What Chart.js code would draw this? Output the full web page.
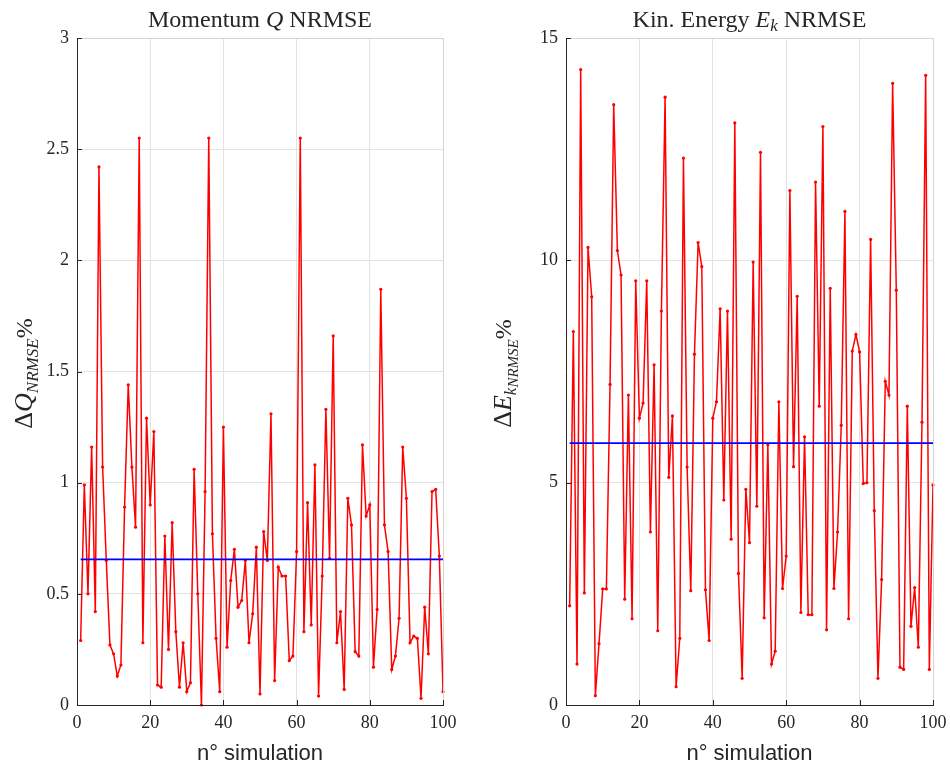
<!DOCTYPE html>
<html>
<head>
<meta charset="utf-8">
<script src="https://cdn.jsdelivr.net/npm/chart.js@4.4.1/dist/chart.umd.min.js"></script>
<style>
body { margin: 0; background: #fff; }
#wrap { position: relative; width: 950px; height: 769px; }
.pane { position: absolute; top: 0; width: 475px; height: 769px; }
</style>
</head>
<body>
<div id="wrap">
    <div class="pane" style="left:0"><canvas id="chartQ" width="475" height="769"></canvas></div>
    <div class="pane" style="left:475px"><canvas id="chartE" width="475" height="769"></canvas></div>
</div>
<script>
// simulation index 1..100
var simIndex = Array.from({ length: 100 }, function (_, i) { return i + 1; });

var momentumErr = [
    0.29, 0.99, 0.50, 1.16, 0.42, 2.42, 1.07, 0.65, 0.27, 0.23,
    0.13, 0.18, 0.89, 1.44, 1.07, 0.80, 2.55, 0.28, 1.29, 0.90,
    1.23, 0.09, 0.08, 0.76, 0.25, 0.82, 0.33, 0.08, 0.28, 0.06,
    0.10, 1.06, 0.50, 0.00, 0.96, 2.55, 0.77, 0.30, 0.06, 1.25,
    0.26, 0.56, 0.70, 0.44, 0.47, 0.65, 0.28, 0.41, 0.71, 0.05,
    0.78, 0.65, 1.31, 0.11, 0.62, 0.58, 0.58, 0.20, 0.22, 0.69,
    2.55, 0.33, 0.91, 0.36, 1.08, 0.04, 0.58, 1.33, 0.66, 1.66,
    0.28, 0.42, 0.07, 0.93, 0.81, 0.24, 0.22, 1.17, 0.85, 0.90,
    0.17, 0.43, 1.87, 0.81, 0.69, 0.16, 0.22, 0.39, 1.16, 0.93,
    0.28, 0.31, 0.30, 0.03, 0.44, 0.23, 0.96, 0.97, 0.67, 0.06
];

var energyErr = [
    2.23, 8.40, 0.92, 14.29, 2.52, 10.29, 9.18, 0.21, 1.38, 2.61,
    2.61, 7.21, 13.50, 10.22, 9.67, 2.38, 6.97, 1.94, 9.54, 6.45,
    6.79, 9.54, 3.89, 7.65, 1.67, 8.86, 13.67, 5.12, 6.50, 0.41,
    1.50, 12.30, 5.35, 2.57, 7.89, 10.40, 9.86, 2.59, 1.45, 6.45,
    6.82, 8.91, 4.61, 8.86, 3.73, 13.09, 2.96, 0.60, 4.85, 3.65,
    9.96, 4.47, 12.43, 1.96, 5.85, 0.92, 1.21, 6.82, 2.62, 3.35,
    11.57, 5.36, 9.19, 2.08, 6.03, 2.03, 2.03, 11.76, 6.72, 13.01,
    1.69, 9.37, 2.62, 3.89, 6.29, 11.10, 1.94, 7.96, 8.33, 7.94,
    4.98, 5.00, 10.47, 4.37, 0.60, 2.82, 7.28, 6.97, 13.98, 9.33,
    0.85, 0.80, 6.72, 1.77, 2.64, 1.30, 6.36, 14.16, 0.80, 4.95
];

var momentumMean = 0.655;
var energyMean = 5.89;

var xTicks = [0, 20, 40, 60, 80, 100];
var qTicks = [0, 0.5, 1, 1.5, 2, 2.5, 3];
var eTicks = [0, 5, 10, 15];

var SERIF = '"Liberation Serif", "DejaVu Serif", serif';
var SANS = '"Liberation Sans", Arial, sans-serif';
var INK = '#262626';

function drawRich(ctx, parts, x, y, rot) {
    ctx.save();
    ctx.translate(x, y);
    if (rot) ctx.rotate(rot);
    var total = 0;
    parts.forEach(function (p) {
        ctx.font = p.font;
        total += ctx.measureText(p.text).width;
    });
    var cx = -total / 2;
    ctx.textAlign = 'left';
    ctx.textBaseline = 'alphabetic';
    ctx.fillStyle = INK;
    parts.forEach(function (p) {
        ctx.font = p.font;
        ctx.fillText(p.text, cx, p.dy || 0);
        cx += ctx.measureText(p.text).width;
    });
    ctx.restore();
}

var decorPlugin = {
    id: 'decor',
    afterDraw: function (chart, args, opts) {
        var ctx = chart.ctx;
        var a = chart.chartArea;
        var xs = chart.scales.x, ys = chart.scales.y;

        ctx.save();
        // light box edges
        ctx.strokeStyle = '#d4d4d4';
        ctx.lineWidth = 1;
        ctx.beginPath();
        ctx.moveTo(a.left, a.top + 0.5);
        ctx.lineTo(a.right + 0.5, a.top + 0.5);
        ctx.lineTo(a.right + 0.5, a.bottom);
        ctx.stroke();

        // dark axes with inward ticks
        ctx.strokeStyle = INK;
        ctx.beginPath();
        ctx.moveTo(a.left + 0.5, a.top);
        ctx.lineTo(a.left + 0.5, a.bottom + 0.5);
        ctx.lineTo(a.right + 1, a.bottom + 0.5);
        opts.yTicks.forEach(function (v) {
            var py = Math.round(ys.getPixelForValue(v)) + 0.5;
            ctx.moveTo(a.left, py);
            ctx.lineTo(a.left + 5, py);
        });
        xTicks.forEach(function (v) {
            var px = Math.round(xs.getPixelForValue(v)) + 0.5;
            ctx.moveTo(px, a.bottom);
            ctx.lineTo(px, a.bottom - 5);
        });
        ctx.stroke();
        ctx.restore();

        var cx = (a.left + a.right) / 2;
        drawRich(ctx, opts.title, cx, 27, 0);
        drawRich(ctx, opts.yLabel, opts.yLabelX, (a.top + a.bottom) / 2 + 2, -Math.PI / 2);
        drawRich(ctx, [{ text: 'n° simulation', font: '22px ' + SANS }], cx, 760, 0);
    }
};

function makeChart(id, values, mean, yTicks, yMax, yWidth, padRight, title, yLabel, yLabelX) {
    var ctx = document.getElementById(id).getContext('2d');
    return new Chart(ctx, {
        type: 'line',
        data: {
            datasets: [{
                data: [{ x: simIndex[0], y: mean }, { x: simIndex[simIndex.length - 1], y: mean }],
                borderColor: 'rgb(0, 0, 255)',
                borderWidth: 1.6,
                pointRadius: 0,
                order: 0
            }, {
                data: values.map(function (v, i) { return { x: simIndex[i], y: v }; }),
                borderColor: 'rgb(255, 0, 0)',
                backgroundColor: 'rgb(255, 0, 0)',
                borderWidth: 1.5,
                pointRadius: 1.6,
                pointBorderWidth: 0,
                pointBackgroundColor: 'rgb(255, 0, 0)',
                tension: 0,
                order: 1
            }]
        },
        options: {
            responsive: false,
            animation: false,
            devicePixelRatio: 1,
            clip: false,
            layout: { padding: { left: 0, top: 38, right: padRight, bottom: 0 } },
            plugins: {
                legend: { display: false },
                tooltip: { enabled: false },
                decor: { title: title, yLabel: yLabel, yLabelX: yLabelX, yTicks: yTicks }
            },
            scales: {
                x: {
                    type: 'linear',
                    min: 0,
                    max: 100,
                    afterBuildTicks: function (s) { s.ticks = xTicks.map(function (v) { return { value: v }; }); },
                    afterFit: function (s) {
                        s.height = 64;
                        s.paddingLeft = 0;
                        s.paddingRight = 0;
                    },
                    grid: { color: '#e3e3e3', drawTicks: false },
                    border: { display: false },
                    ticks: {
                        color: INK,
                        font: { family: SERIF, size: 18 },
                        padding: 7,
                        maxRotation: 0,
                        autoSkip: false,
                        callback: function (v) { return String(v); }
                    }
                },
                y: {
                    type: 'linear',
                    min: 0,
                    max: yMax,
                    afterBuildTicks: function (s) { s.ticks = yTicks.map(function (v) { return { value: v }; }); },
                    afterFit: function (s) {
                        s.width = yWidth;
                        s.paddingTop = 0;
                        s.paddingBottom = 0;
                    },
                    grid: { color: '#e3e3e3', drawTicks: false },
                    border: { display: false },
                    ticks: {
                        color: INK,
                        font: { family: SERIF, size: 18 },
                        padding: 8,
                        callback: function (v) { return String(v); }
                    }
                }
            }
        },
        plugins: [decorPlugin]
    });
}

makeChart('chartQ', momentumErr, momentumMean, qTicks, 3, 77, 32,
    [
        { text: 'Momentum ', font: '24px ' + SERIF },
        { text: 'Q', font: 'italic 24px ' + SERIF },
        { text: ' NRMSE', font: '24px ' + SERIF }
    ],
    [
        { text: 'Δ', font: '26px ' + SERIF },
        { text: 'Q', font: 'italic 26px ' + SERIF },
        { text: 'NRMSE', font: 'italic 17px ' + SERIF, dy: 6 },
        { text: '%', font: '24px ' + SERIF }
    ], 32);

makeChart('chartE', energyErr, energyMean, eTicks, 15, 91, 17,
    [
        { text: 'Kin. Energy ', font: '24px ' + SERIF },
        { text: 'E', font: 'italic 24px ' + SERIF },
        { text: 'k', font: 'italic 17px ' + SERIF, dy: 4 },
        { text: ' NRMSE', font: '24px ' + SERIF }
    ],
    [
        { text: 'Δ', font: '26px ' + SERIF },
        { text: 'E', font: 'italic 26px ' + SERIF },
        { text: 'k', font: 'italic 17px ' + SERIF, dy: 5 },
        { text: 'NRMSE', font: 'italic 15px ' + SERIF, dy: 7 },
        { text: '%', font: '24px ' + SERIF }
    ], 36);
</script>
</body>
</html>
